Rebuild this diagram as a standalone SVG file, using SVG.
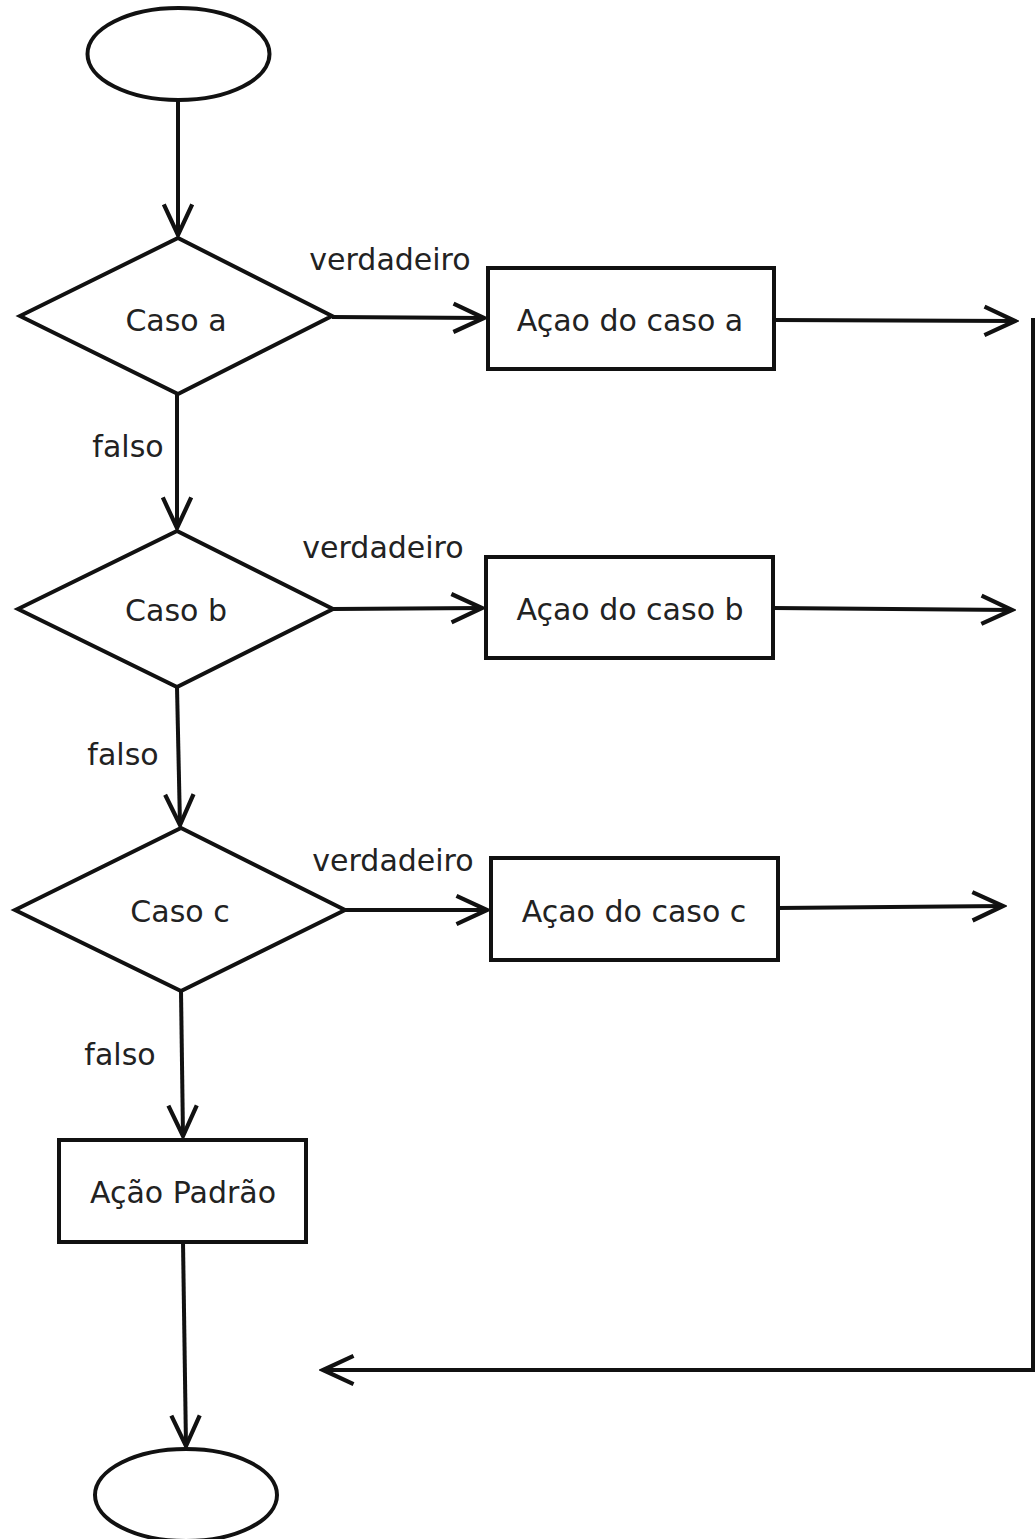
<svg xmlns="http://www.w3.org/2000/svg" width="1036" height="1539" viewBox="0 0 1036 1539">
  <style>
    .shape { fill: #ffffff; stroke: #111111; stroke-width: 4; }
    .arrow { fill: none; stroke: #111111; stroke-width: 4; marker-end: url(#open); }
    text { font-family: "DejaVu Sans", "Liberation Sans", sans-serif; font-size: 30px; fill: #222222; }
    .c { text-anchor: middle; }
  </style>
  <defs>
    <marker id="open" markerUnits="userSpaceOnUse" markerWidth="40" markerHeight="40" viewBox="-34 -17 38 34" refX="0" refY="0" orient="auto">
      <path d="M-29,-13.5 L0,0 L-29,13.5" fill="none" stroke="#111111" stroke-width="4" stroke-linejoin="miter"/>
    </marker>
  </defs>
  <rect width="1036" height="1539" fill="#ffffff"/>

  <!-- connectors -->
  <g id="connectors">
    <line class="arrow" x1="178" y1="100" x2="178" y2="235"/>
    <line class="arrow" x1="332" y1="317" x2="484" y2="318"/>
    <line class="arrow" x1="774" y1="320" x2="1015" y2="321"/>
    <line class="arrow" x1="177" y1="394" x2="177" y2="528"/>
    <line class="arrow" x1="333" y1="609" x2="482" y2="608"/>
    <line class="arrow" x1="773" y1="608" x2="1012" y2="610"/>
    <line class="arrow" x1="177" y1="687" x2="180" y2="825"/>
    <line class="arrow" x1="345" y1="910" x2="487" y2="910"/>
    <line class="arrow" x1="778" y1="908" x2="1003" y2="906"/>
    <line class="arrow" x1="181" y1="991" x2="183" y2="1136"/>
    <line class="arrow" x1="183" y1="1242" x2="186" y2="1446"/>
    <polyline class="arrow" points="1033,318 1033,1370 323,1370"/>
    <text x="390" y="270" class="c">verdadeiro</text>
    <text x="128" y="457" class="c">falso</text>
    <text x="383" y="558" class="c">verdadeiro</text>
    <text x="123" y="765" class="c">falso</text>
    <text x="393" y="871" class="c">verdadeiro</text>
    <text x="120" y="1065" class="c">falso</text>
  </g>

  <!-- start terminal -->
  <g id="start">
    <ellipse class="shape" cx="178.5" cy="54" rx="91" ry="46"/>
  </g>

  <!-- decision: case a -->
  <g id="caso-a">
    <polygon class="shape" points="20,316 178,238 332,316 178,394"/>
    <text x="176" y="331" class="c">Caso a</text>
  </g>

  <g id="acao-a">
    <rect class="shape" x="488" y="268" width="286" height="101"/>
    <text x="630" y="331" class="c">Açao do caso a</text>
  </g>

  <!-- decision: case b -->
  <g id="caso-b">
    <polygon class="shape" points="18,609 177,531 333,609 177,687"/>
    <text x="176" y="621" class="c">Caso b</text>
  </g>

  <g id="acao-b">
    <rect class="shape" x="486" y="557" width="287" height="101"/>
    <text x="630" y="620" class="c">Açao do caso b</text>
  </g>

  <!-- decision: case c -->
  <g id="caso-c">
    <polygon class="shape" points="15,910 181,828 345,910 181,991"/>
    <text x="180" y="922" class="c">Caso c</text>
  </g>

  <g id="acao-c">
    <rect class="shape" x="491" y="858" width="287" height="102"/>
    <text x="634" y="922" class="c">Açao do caso c</text>
  </g>

  <!-- default action -->
  <g id="acao-padrao">
    <rect class="shape" x="59" y="1140" width="247" height="102"/>
    <text x="183" y="1203" class="c">Ação Padrão</text>
  </g>

  <!-- end terminal -->
  <g id="end">
    <ellipse class="shape" cx="186" cy="1495" rx="91" ry="46"/>
  </g>
</svg>
